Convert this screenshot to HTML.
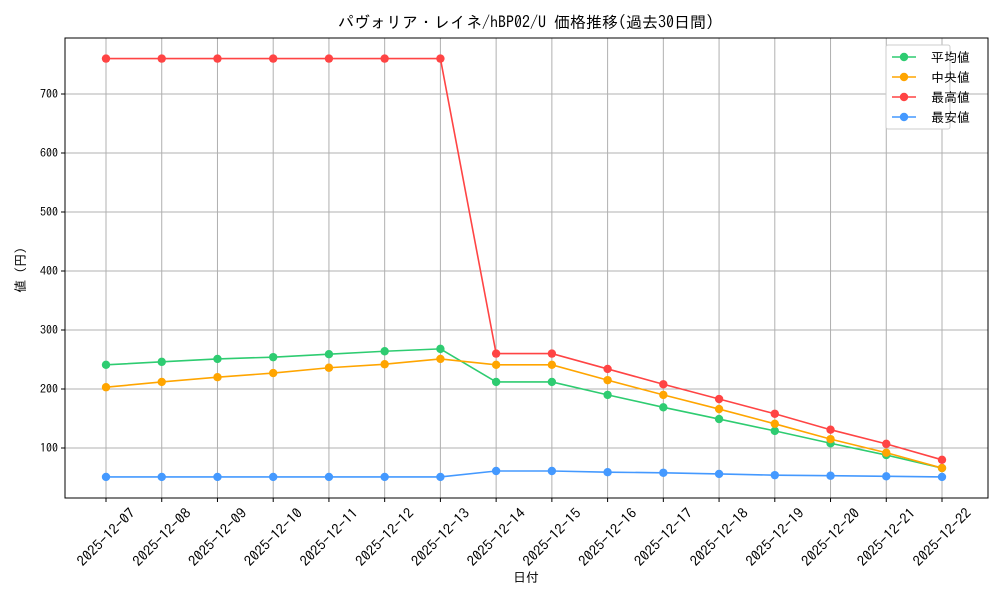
<!DOCTYPE html>
<html><head><meta charset="utf-8"><style>
body{margin:0;background:#fff;font-family:"IPAGothic","Noto Sans CJK JP",sans-serif;}
</style></head><body>
<svg id="chart" width="1000" height="600" xmlns="http://www.w3.org/2000/svg" font-family="IPAGothic,'Noto Sans CJK JP',sans-serif"></svg>
<script>
const categories=["2025-12-07","2025-12-08","2025-12-09","2025-12-10","2025-12-11","2025-12-12","2025-12-13","2025-12-14","2025-12-15","2025-12-16","2025-12-17","2025-12-18","2025-12-19","2025-12-20","2025-12-21","2025-12-22"];
const avgValues=[241,246,251,254,259,264,268,212,212,190,169,149,129,108,88,66];
const medianValues=[203,212,220,227,236,242,251,241,241,215,190,166,141,115,92,66];
const maxValues=[760,760,760,760,760,760,760,260,260,234,208,183,158,131,107,80];
const minValues=[51,51,51,51,51,51,51,61,61,59,58,56,54,53,52,51];
const yTicks=[100,200,300,400,500,600,700];
const seriesNames=["平均値","中央値","最高値","最安値"];
const seriesColors=["#2ecc71","#ffa500","#ff4444","#4499ff"];

const svg=document.getElementById('chart');
const NS="http://www.w3.org/2000/svg";
const L=65,R=988,T=38,B=498;
const x0=106,x1=942;
function xs(i){return x0+(x1-x0)*i/(categories.length-1);}
function ys(v){return 448-(v-100)*0.59;}
function mk(tag,attrs,parent){const e=document.createElementNS(NS,tag);for(const k in attrs)e.setAttribute(k,attrs[k]);(parent||svg).appendChild(e);return e;}

categories.forEach((c,i)=>{const l=mk('line',{x1:xs(i),x2:xs(i),y1:T,y2:B,stroke:'#b0b0b0','stroke-width':1});

});
yTicks.forEach(v=>{const l=mk('line',{x1:L,x2:R,y1:ys(v),y2:ys(v),stroke:'#b0b0b0','stroke-width':1});

});
const frame=mk('rect',{x:L,y:T,width:R-L,height:B-T,fill:'none',stroke:'#000','stroke-width':1});



yTicks.forEach(v=>{mk('line',{x1:L-4,x2:L,y1:ys(v),y2:ys(v),stroke:'#000'});
const t=mk('text',{x:L-7,y:ys(v)+4,'text-anchor':'end','font-size':12});t.textContent=v;

});
categories.forEach((c,i)=>{mk('line',{x1:xs(i),x2:xs(i),y1:B,y2:B+4,stroke:'#000'});
const cx=xs(i), cy=537;
const t=mk('text',{x:cx,y:cy+5,'text-anchor':'middle','font-size':14,textLength:75,lengthAdjust:'spacingAndGlyphs',transform:`rotate(-45 ${cx} ${cy})`});t.textContent=c;

});

[avgValues,medianValues,maxValues,minValues].forEach((vals,s)=>{
const g=mk('g',{});


mk('polyline',{points:vals.map((v,i)=>xs(i)+','+ys(v)).join(' '),fill:'none',stroke:seriesColors[s],'stroke-width':1.6},g);
vals.forEach((v,i)=>{const c=mk('circle',{cx:xs(i),cy:ys(v),r:4.2,fill:seriesColors[s]},g);

});
});

const lg=mk('g',{});


mk('rect',{x:886,y:45,width:64,height:84,fill:'#fff',stroke:'#ccc',rx:2},lg);
seriesNames.forEach((n,s)=>{const y=57+s*20;
mk('line',{x1:892,x2:916,y1:y,y2:y,stroke:seriesColors[s],'stroke-width':1.6},lg);
mk('circle',{cx:904,cy:y,r:4.2,fill:seriesColors[s]},lg);
const t=mk('text',{x:931,y:y+5,'font-size':13},lg);t.textContent=n;

});

const title=mk('text',{x:526,y:28,'text-anchor':'middle','font-size':16});title.textContent="パヴォリア・レイネ/hBP02/U 価格推移(過去30日間)";


const xt=mk('text',{x:526,y:582,'text-anchor':'middle','font-size':13});xt.textContent="日付";


const yt=mk('text',{x:25,y:270,'text-anchor':'middle','font-size':13,transform:'rotate(-90 25 270)'});yt.textContent="値 (円)";


</script>
</body></html>
